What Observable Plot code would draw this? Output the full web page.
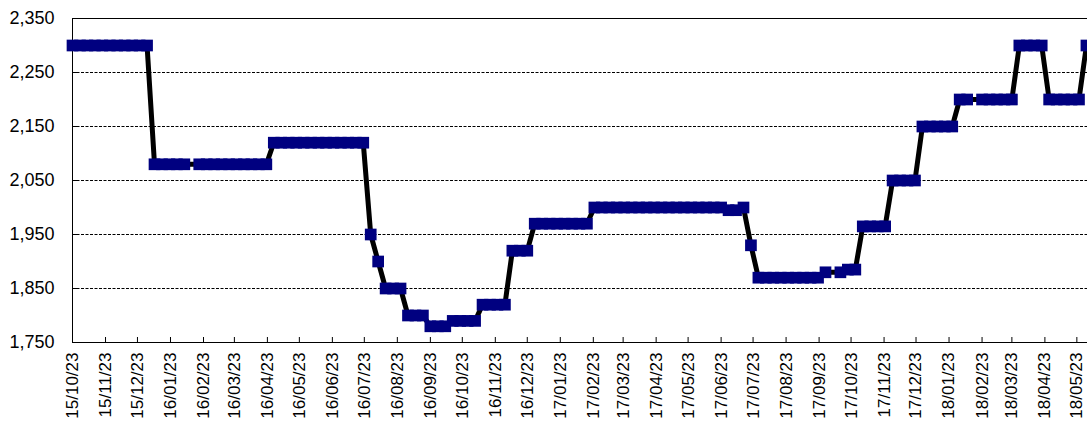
<!DOCTYPE html>
<html><head><meta charset="utf-8">
<script src="https://cdn.jsdelivr.net/npm/d3@7"></script>
<script src="https://cdn.jsdelivr.net/npm/@observablehq/plot@0.6"></script>
<style>html,body{margin:0;padding:0;background:#fff;overflow:hidden;}</style>
</head><body><div id="chart"></div>
<script>
const dates = [
  "2015-10-23","2015-10-30","2015-11-06","2015-11-13","2015-11-20","2015-11-27","2015-12-04","2015-12-11","2015-12-18","2015-12-25",
  "2016-01-01","2016-01-08","2016-01-15","2016-01-22","2016-01-29","2016-02-05","2016-02-19","2016-02-26",
  "2016-03-04","2016-03-11","2016-03-18","2016-03-25","2016-04-01","2016-04-08","2016-04-15","2016-04-22","2016-04-29",
  "2016-05-06","2016-05-13","2016-05-20","2016-05-27","2016-06-03","2016-06-10","2016-06-17","2016-06-24",
  "2016-07-01","2016-07-08","2016-07-15","2016-07-22","2016-07-29","2016-08-05","2016-08-12","2016-08-19","2016-08-26",
  "2016-09-02","2016-09-09","2016-09-16","2016-09-23","2016-09-30","2016-10-07","2016-10-14","2016-10-21","2016-10-28",
  "2016-11-04","2016-11-11","2016-11-18","2016-11-25","2016-12-02","2016-12-09","2016-12-16","2016-12-23","2016-12-30",
  "2017-01-06","2017-01-13","2017-01-20","2017-01-27","2017-02-03","2017-02-10","2017-02-17","2017-02-24",
  "2017-03-03","2017-03-10","2017-03-17","2017-03-24","2017-03-31","2017-04-07","2017-04-14","2017-04-21","2017-04-28",
  "2017-05-05","2017-05-12","2017-05-19","2017-05-26","2017-06-02","2017-06-09","2017-06-16","2017-06-23","2017-06-30",
  "2017-07-07","2017-07-14","2017-07-21","2017-07-28","2017-08-04","2017-08-11","2017-08-18","2017-08-25",
  "2017-09-01","2017-09-08","2017-09-15","2017-09-22","2017-09-29","2017-10-13","2017-10-20","2017-10-27",
  "2017-11-03","2017-11-10","2017-11-17","2017-11-24","2017-12-01","2017-12-08","2017-12-15","2017-12-22","2017-12-29",
  "2018-01-05","2018-01-12","2018-01-19","2018-01-26","2018-02-02","2018-02-09","2018-02-23",
  "2018-03-02","2018-03-09","2018-03-16","2018-03-23","2018-03-30","2018-04-06","2018-04-13","2018-04-20","2018-04-27",
  "2018-05-04","2018-05-11","2018-05-18","2018-05-25","2018-06-01"
];
const prices = [
  2300,2300,2300,2300,2300,2300,2300,2300,2300,2300,
  2300,2080,2080,2080,2080,2080,2080,2080,
  2080,2080,2080,2080,2080,2080,2080,2080,2120,
  2120,2120,2120,2120,2120,2120,2120,2120,
  2120,2120,2120,2120,1950,1900,1850,1850,1850,
  1800,1800,1800,1780,1780,1780,1790,1790,1790,
  1790,1820,1820,1820,1820,1920,1920,1920,1970,
  1970,1970,1970,1970,1970,1970,1970,2000,
  2000,2000,2000,2000,2000,2000,2000,2000,2000,
  2000,2000,2000,2000,2000,2000,2000,2000,1995,
  1995,2000,1930,1870,1870,1870,1870,1870,
  1870,1870,1870,1870,1880,1880,1885,1885,
  1965,1965,1965,1965,2050,2050,2050,2050,2150,
  2150,2150,2150,2150,2200,2200,2200,
  2200,2200,2200,2200,2300,2300,2300,2300,2200,
  2200,2200,2200,2200,2300
];
const yTicks = [1750, 1850, 1950, 2050, 2150, 2250, 2350];
const gridValues = [1850, 1950, 2050, 2150, 2250];
const tickDates = [
  "2015-10-23","2015-11-23","2015-12-23","2016-01-23","2016-02-23","2016-03-23","2016-04-23","2016-05-23",
  "2016-06-23","2016-07-23","2016-08-23","2016-09-23","2016-10-23","2016-11-23","2016-12-23","2017-01-23",
  "2017-02-23","2017-03-23","2017-04-23","2017-05-23","2017-06-23","2017-07-23","2017-08-23","2017-09-23",
  "2017-10-23","2017-11-23","2017-12-23","2018-01-23","2018-02-23","2018-03-23","2018-04-23","2018-05-23"
];
const xDomain = ["2015-10-23", "2018-06-02"];

const data = dates.map((d, i) => ({date: new Date(d), price: prices[i]}));
const ticks = tickDates.map(d => new Date(d));

const W = 1087, H = 423, mL = 72, mR = 0, mT = 18, mB = 81;

const chart = Plot.plot({
  width: W, height: H,
  marginLeft: mL, marginRight: mR, marginTop: mT, marginBottom: mB,
  style: {fontFamily: "Arial, 'Liberation Sans', sans-serif", fontSize: "18px", background: "#fff", color: "#000", overflow: "hidden"},
  x: {type: "utc", domain: xDomain.map(d => new Date(d))},
  y: {domain: [yTicks[0], yTicks[yTicks.length - 1]]},
  marks: [
    Plot.ruleY(gridValues, {stroke: "#000", strokeWidth: 1, strokeDasharray: "3,1.5"}),
    Plot.ruleY([yTicks[0], yTicks[yTicks.length - 1]], {stroke: "#000", strokeWidth: 1}),
    Plot.ruleX([ticks[0]], {stroke: "#000", strokeWidth: 1}),
    Plot.tickY(yTicks, {y: d => d, stroke: "#000", insetRight: W - mL - mR - 5}),
    Plot.tickX(ticks, {x: d => d, stroke: "#000", insetTop: H - mT - mB - 5}),
    Plot.axisY(yTicks, {tickSize: 0, tickPadding: 18, tickFormat: d3.format(","), label: null}),
    Plot.axisX(ticks, {tickSize: 0, tickPadding: 10, tickRotate: -90, fontSize: 17, tickFormat: d3.utcFormat("%y/%m/%d"), label: null}),
    Plot.line(data, {x: "date", y: "price", stroke: "#000", strokeWidth: 5}),
    Plot.dot(data, {x: "date", y: "price", symbol: "square", r: 6.6, fill: "#000080", stroke: "none"})
  ]
});
document.getElementById("chart").appendChild(chart);
</script>
</body></html>
